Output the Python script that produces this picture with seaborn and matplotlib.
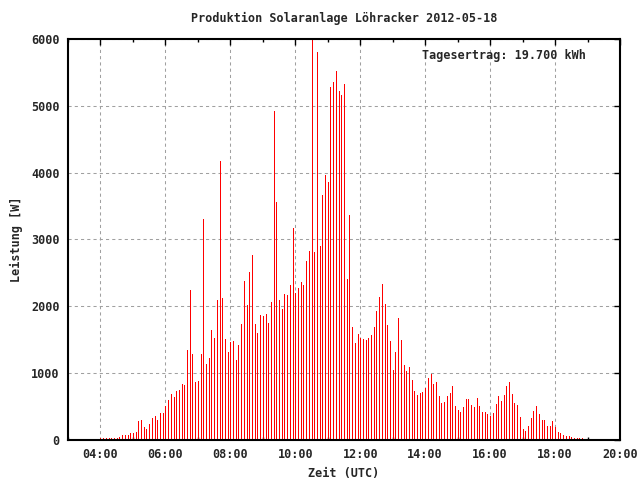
import numpy as np
import pandas as pd
import matplotlib
matplotlib.use("Agg")
import matplotlib.pyplot as plt
import matplotlib.dates as mdates
import seaborn as sns

# Data: power readings every 5 minutes starting 04:00 UTC
start_time = "2012-05-18 04:00"
step = "5min"
power = [
    25, 25, 25, 25, 25, 30, 35, 50, 75, 75, 75, 105, 105, 125, 285, 300,
    195, 165, 240, 330, 360, 300, 405, 405, 510, 600, 690, 645, 735, 750,
    840, 825, 1350, 2250, 1290, 870, 885, 1290, 3300, 1140, 1230, 1650,
    1530, 2100, 4175, 2125, 1510, 1320, 1465, 1480, 1200, 1420, 1735, 2380,
    2020, 2515, 2770, 1735, 1600, 1870, 1855, 1885, 1750, 2065, 4925, 3560,
    2095, 1960, 2185, 2170, 2320, 3170, 2200, 2275, 2365, 2320, 2680, 2830,
    6000, 2815, 5805, 2905, 3665, 3965, 3860, 5280, 5355, 5520, 5220, 5160,
    5320, 2410, 3365, 1690, 1450, 1585, 1525, 1510, 1495, 1525, 1570, 1690,
    1930, 2140, 2335, 2035, 1720, 1480, 1050, 1315, 1825, 1495, 1120, 1030,
    1090, 900, 735, 675, 705, 720, 780, 930, 990, 840, 870, 660, 555, 570,
    660, 705, 810, 510, 450, 420, 495, 615, 615, 525, 495, 630, 510, 420,
    420, 390, 360, 405, 540, 660, 585, 675, 810, 870, 690, 555, 525, 345,
    165, 135, 210, 330, 435, 510, 390, 300, 300, 210, 210, 285, 195, 120,
    105, 75, 60, 60, 45, 30, 25, 25, 25,
]
title = "Produktion Solaranlage Löhracker 2012-05-18"
daily_yield = "Tagesertrag: 19.700 kWh"
y_ticks = [0, 1000, 2000, 3000, 4000, 5000, 6000]

times = pd.date_range(start_time, periods=len(power), freq=step)
df = pd.DataFrame({"time": times, "power": power})


def main():
    sns.set_theme(style="white")
    plt.rcParams["font.family"] = ["DejaVu Sans Mono"]
    plt.rcParams["font.weight"] = "bold"
    plt.rcParams["font.size"] = 8.5

    fig = plt.figure(figsize=(6.4, 4.8), dpi=100)
    ax = fig.add_axes([68 / 640, 40 / 480, 552 / 640, 401 / 480])

    # impulses, 1 px wide
    ax.vlines(df["time"].to_numpy(), 0, df["power"], colors="#ff0000",
              linewidth=0.5, antialiased=False, zorder=3)

    ax.set_xlim(pd.Timestamp("2012-05-18 03:00"), pd.Timestamp("2012-05-18 20:00"))
    ax.set_ylim(0, 6000)
    ax.set_yticks(y_ticks)

    ax.xaxis.set_major_locator(mdates.HourLocator(byhour=range(4, 21, 2)))
    ax.xaxis.set_minor_locator(mdates.HourLocator(byhour=range(3, 21, 2)))
    ax.xaxis.set_major_formatter(mdates.DateFormatter("%H:%M"))

    ax.grid(True, which="major", color="#a0a0a0", linestyle=(0, (3, 3)),
            linewidth=0.75, zorder=1)
    ax.tick_params(axis="both", which="major", direction="in", length=4,
                   width=1, top=True, right=True, color="black", pad=6,
                   labelsize=8.5)
    ax.tick_params(axis="x", which="minor", direction="in", length=2.2,
                   width=1, top=True, bottom=True, color="black")
    for spine in ax.spines.values():
        spine.set_color("black")
        spine.set_linewidth(1.5)
        spine.set_zorder(4)

    ax.set_title(title, fontsize=8.5, fontweight="bold", pad=12.5)
    ax.set_xlabel("Zeit (UTC)", fontsize=8.5, fontweight="bold", labelpad=4)
    ax.set_ylabel("Leistung [W]", fontsize=8.5, fontweight="bold", labelpad=6)
    ax.text(0.938, 0.958, daily_yield, transform=ax.transAxes, ha="right",
            va="center", fontsize=8.5, fontweight="bold")

    fig.savefig("out.png", dpi=100)
    plt.close(fig)


if __name__ == "__main__":
    main()
